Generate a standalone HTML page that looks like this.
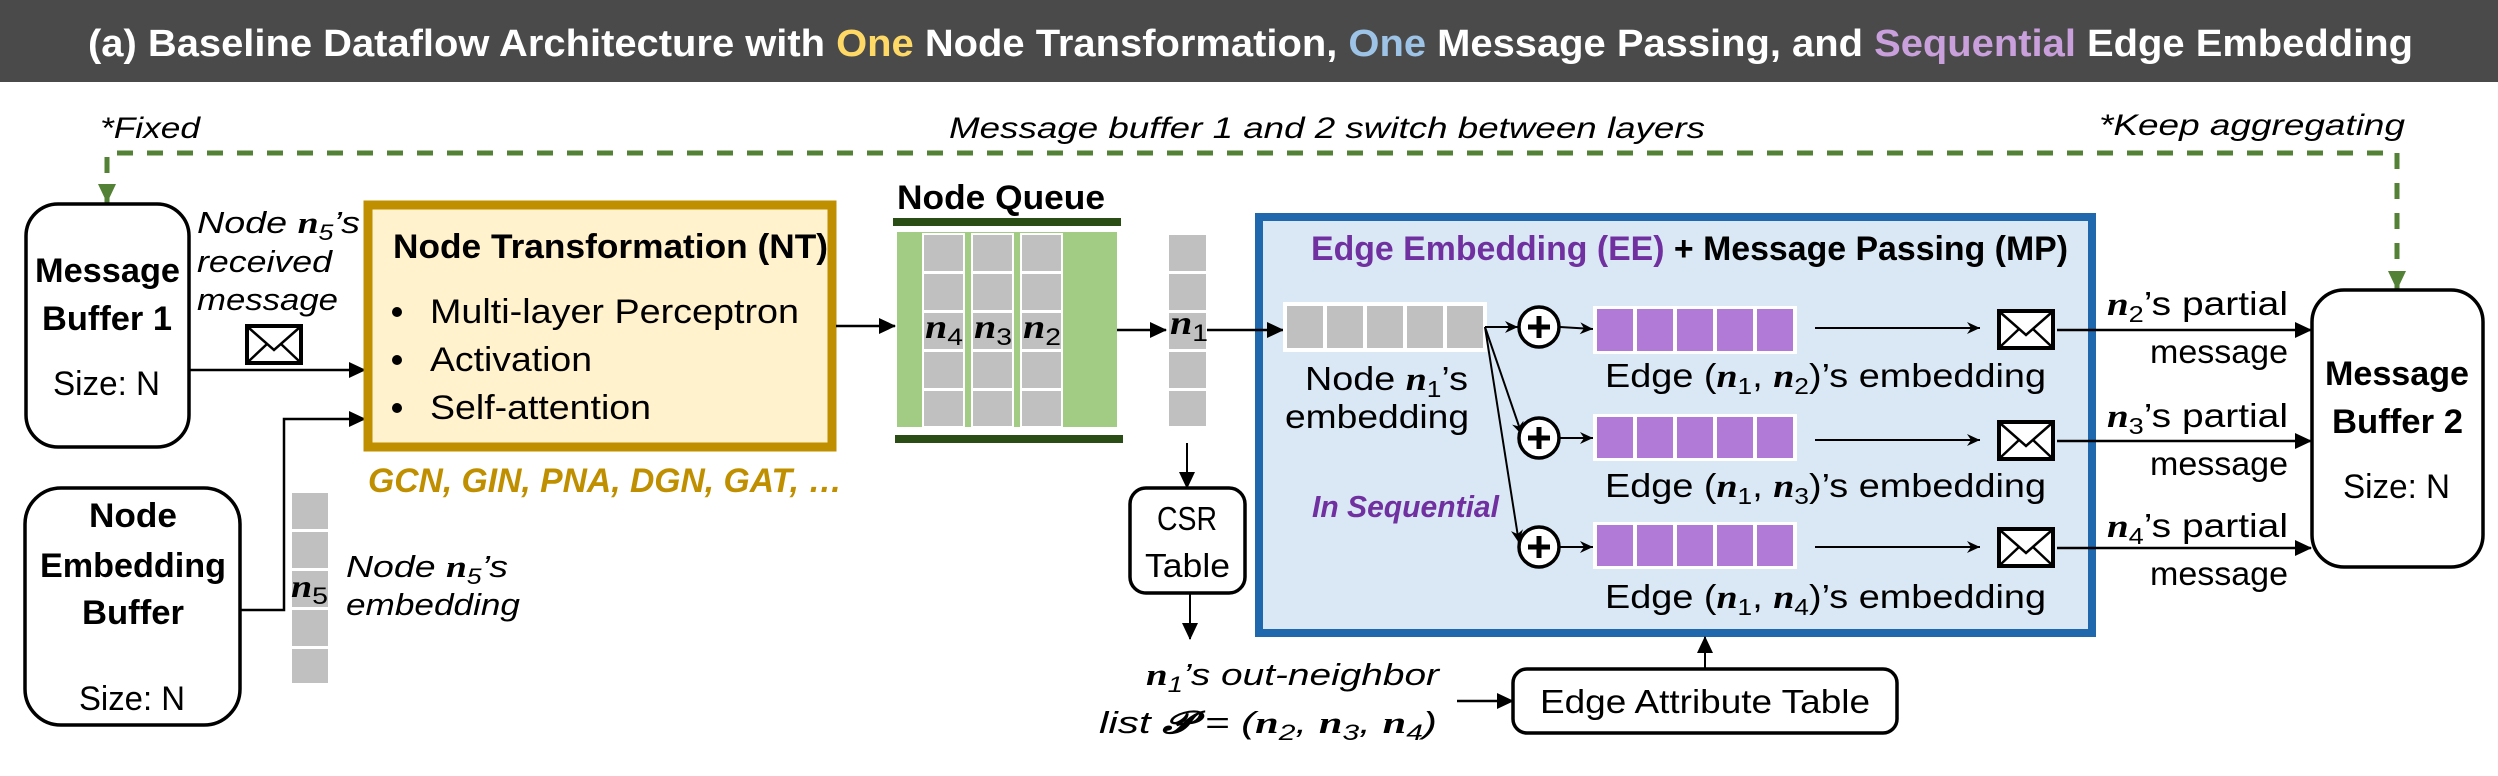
<!DOCTYPE html>
<html><head><meta charset="utf-8"><style>
html,body{margin:0;padding:0;background:#fff;}
svg{display:block;}
text{font-family:"Liberation Sans",sans-serif;}
.m{font-family:"Liberation Serif",serif;font-style:italic;font-weight:bold;}
</style></head><body>
<svg width="2498" height="776" viewBox="0 0 2498 776" xmlns="http://www.w3.org/2000/svg">
<defs>
<marker id="a" markerUnits="userSpaceOnUse" markerWidth="18" markerHeight="18" refX="16" refY="9" orient="auto"><path d="M0,1 L17,9 L0,17 z" fill="#000"/></marker>
<marker id="as" markerUnits="userSpaceOnUse" markerWidth="14" markerHeight="14" refX="13" refY="7" orient="auto"><path d="M0,1 L13,7 L0,13 L4,7 z" fill="#000"/></marker>
<g id="env"><rect x="0" y="0" width="54" height="37" fill="#fff" stroke="#000" stroke-width="4"/><path d="M2,2 L27,24 L52,2 M2,35 L20,18 M52,35 L34,18" fill="none" stroke="#000" stroke-width="2.5"/></g>
<g id="plus"><circle cx="0" cy="0" r="20" fill="#fff" stroke="#000" stroke-width="3.5"/><path d="M-11,0 H11 M0,-11 V11" stroke="#000" stroke-width="5"/></g>
</defs>

<rect x="0" y="0" width="2498" height="82" fill="#4a4a4a"/>
<text x="88" y="56" font-size="38" font-weight="bold" fill="#fff" textLength="2325" lengthAdjust="spacingAndGlyphs">(a) Baseline Dataflow Architecture with <tspan fill="#ffd966">One</tspan> Node Transformation, <tspan fill="#9dc3e6">One</tspan> Message Passing, and <tspan fill="#c9a0dc">Sequential</tspan> Edge Embedding</text>

<path d="M107,203 V153 H2397 V290" fill="none" stroke="#538135" stroke-width="5" stroke-dasharray="16,14"/>
<path d="M98,184 L116,184 L107,203 z" fill="#538135"/>
<path d="M2388,271 L2406,271 L2397,290 z" fill="#538135"/>
<text x="100" y="138" font-size="30" font-style="italic" textLength="100" lengthAdjust="spacingAndGlyphs">*Fixed</text>
<text x="949" y="138" font-size="30" font-style="italic" textLength="756" lengthAdjust="spacingAndGlyphs">Message buffer 1 and 2 switch between layers</text>
<text x="2099" y="135" font-size="30" font-style="italic" textLength="306" lengthAdjust="spacingAndGlyphs">*Keep aggregating</text>

<rect x="26" y="204" width="163" height="243" rx="32" fill="#fff" stroke="#000" stroke-width="3.5"/>
<text x="35" y="282" font-size="34" font-weight="bold" textLength="145" lengthAdjust="spacingAndGlyphs">Message</text>
<text x="42" y="330" font-size="34" font-weight="bold" textLength="130" lengthAdjust="spacingAndGlyphs">Buffer 1</text>
<text x="53" y="395" font-size="34" textLength="107" lengthAdjust="spacingAndGlyphs">Size: N</text>

<text x="197" y="233" font-size="31" font-style="italic" textLength="163" lengthAdjust="spacingAndGlyphs">Node <tspan class="m">n</tspan><tspan font-size="22" dy="7">5</tspan><tspan dy="-7">’s</tspan></text>
<text x="197" y="272" font-size="31" font-style="italic" textLength="135" lengthAdjust="spacingAndGlyphs">received</text>
<text x="197" y="310" font-size="31" font-style="italic" textLength="141" lengthAdjust="spacingAndGlyphs">message</text>
<use href="#env" x="247" y="326"/>
<line x1="189" y1="370" x2="365" y2="370" stroke="#000" stroke-width="2.5" marker-end="url(#a)"/>

<rect x="25" y="488" width="215" height="237" rx="36" fill="#fff" stroke="#000" stroke-width="3.5"/>
<text x="89" y="527" font-size="34" font-weight="bold" textLength="88" lengthAdjust="spacingAndGlyphs">Node</text>
<text x="40" y="577" font-size="34" font-weight="bold" textLength="186" lengthAdjust="spacingAndGlyphs">Embedding</text>
<text x="82" y="624" font-size="34" font-weight="bold" textLength="102" lengthAdjust="spacingAndGlyphs">Buffer</text>
<text x="79" y="710" font-size="34" textLength="106" lengthAdjust="spacingAndGlyphs">Size: N</text>
<path d="M240,610 H284 V419 H365" fill="none" stroke="#000" stroke-width="2.5" marker-end="url(#a)"/>

<g fill="#c0c0c0" stroke="#fff" stroke-width="2">
<rect x="291" y="492" width="38" height="38"/><rect x="291" y="531" width="38" height="38"/><rect x="291" y="570" width="38" height="38"/><rect x="291" y="609" width="38" height="38"/><rect x="291" y="648" width="38" height="36"/>
</g>
<text x="291" y="597" font-size="32" textLength="37" lengthAdjust="spacingAndGlyphs"><tspan class="m">n</tspan><tspan font-size="24" dy="7">5</tspan></text>
<text x="346" y="577" font-size="31" font-style="italic" textLength="162" lengthAdjust="spacingAndGlyphs">Node <tspan class="m">n</tspan><tspan font-size="22" dy="7">5</tspan><tspan dy="-7">’s</tspan></text>
<text x="346" y="615" font-size="31" font-style="italic" textLength="174" lengthAdjust="spacingAndGlyphs">embedding</text>

<rect x="368" y="205" width="464" height="242" fill="#fff2cc" stroke="#bf8f00" stroke-width="9"/>
<text x="393" y="258" font-size="34" font-weight="bold" textLength="435" lengthAdjust="spacingAndGlyphs">Node Transformation (NT)</text>
<g font-size="34">
<circle cx="397" cy="312" r="5"/><circle cx="397" cy="360" r="5"/><circle cx="397" cy="408" r="5"/>
<text x="430" y="323" textLength="369" lengthAdjust="spacingAndGlyphs">Multi-layer Perceptron</text>
<text x="430" y="371" textLength="162" lengthAdjust="spacingAndGlyphs">Activation</text>
<text x="430" y="419" textLength="221" lengthAdjust="spacingAndGlyphs">Self-attention</text>
</g>
<text x="368" y="492" font-size="34" font-weight="bold" font-style="italic" fill="#bf8f00" textLength="474" lengthAdjust="spacingAndGlyphs">GCN, GIN, PNA, DGN, GAT, …</text>
<line x1="836" y1="326" x2="895" y2="326" stroke="#000" stroke-width="2.5" marker-end="url(#a)"/>

<text x="897" y="209" font-size="34" font-weight="bold" textLength="208" lengthAdjust="spacingAndGlyphs">Node Queue</text>
<rect x="893" y="218" width="228" height="8" fill="#2a4d16"/>
<rect x="897" y="232" width="220" height="195" fill="#a2cb83"/>
<g fill="#c0c0c0" stroke="#fff" stroke-width="2">
<rect x="923" y="234" width="41" height="38"/><rect x="923" y="273" width="41" height="38"/><rect x="923" y="312" width="41" height="38"/><rect x="923" y="351" width="41" height="38"/><rect x="923" y="390" width="41" height="37"/>
<rect x="972" y="234" width="41" height="38"/><rect x="972" y="273" width="41" height="38"/><rect x="972" y="312" width="41" height="38"/><rect x="972" y="351" width="41" height="38"/><rect x="972" y="390" width="41" height="37"/>
<rect x="1021" y="234" width="41" height="38"/><rect x="1021" y="273" width="41" height="38"/><rect x="1021" y="312" width="41" height="38"/><rect x="1021" y="351" width="41" height="38"/><rect x="1021" y="390" width="41" height="37"/>
<rect x="1168" y="234" width="39" height="38"/><rect x="1168" y="273" width="39" height="38"/><rect x="1168" y="312" width="39" height="38"/><rect x="1168" y="351" width="39" height="38"/><rect x="1168" y="390" width="39" height="37"/>
</g>
<text x="925" y="338" font-size="34" textLength="38" lengthAdjust="spacingAndGlyphs"><tspan class="m">n</tspan><tspan font-size="24" dy="7">4</tspan></text>
<text x="974" y="338" font-size="34" textLength="38" lengthAdjust="spacingAndGlyphs"><tspan class="m">n</tspan><tspan font-size="24" dy="7">3</tspan></text>
<text x="1023" y="338" font-size="34" textLength="38" lengthAdjust="spacingAndGlyphs"><tspan class="m">n</tspan><tspan font-size="24" dy="7">2</tspan></text>
<text x="1170" y="334" font-size="34" textLength="38" lengthAdjust="spacingAndGlyphs"><tspan class="m">n</tspan><tspan font-size="24" dy="7">1</tspan></text>
<rect x="895" y="435" width="228" height="8" fill="#2a4d16"/>
<line x1="1117" y1="330" x2="1166" y2="330" stroke="#000" stroke-width="2.5" marker-end="url(#a)"/>

<line x1="1187" y1="443" x2="1187" y2="488" stroke="#000" stroke-width="2" marker-end="url(#a)"/>
<rect x="1130" y="488" width="115" height="105" rx="16" fill="#fff" stroke="#000" stroke-width="3.5"/>
<text x="1157" y="530" font-size="33" textLength="60" lengthAdjust="spacingAndGlyphs">CSR</text>
<text x="1145" y="577" font-size="33" textLength="85" lengthAdjust="spacingAndGlyphs">Table</text>
<line x1="1190" y1="593" x2="1190" y2="639" stroke="#000" stroke-width="2" marker-end="url(#a)"/>
<text x="1146" y="685" font-size="31" font-style="italic" textLength="293" lengthAdjust="spacingAndGlyphs"><tspan class="m">n</tspan><tspan font-size="22" dy="7">1</tspan><tspan dy="-7">’s out-neighbor</tspan></text>
<text x="1099" y="733" font-size="31" font-style="italic" textLength="338" lengthAdjust="spacingAndGlyphs">list <tspan font-family="Liberation Serif" font-weight="bold">𝓟</tspan> = (<tspan class="m">n</tspan><tspan font-size="22" dy="7">2</tspan><tspan dy="-7">, </tspan><tspan class="m">n</tspan><tspan font-size="22" dy="7">3</tspan><tspan dy="-7">, </tspan><tspan class="m">n</tspan><tspan font-size="22" dy="7">4</tspan><tspan dy="-7">)</tspan></text>
<line x1="1457" y1="701" x2="1513" y2="701" stroke="#000" stroke-width="2.5" marker-end="url(#a)"/>
<rect x="1513" y="669" width="384" height="64" rx="14" fill="#fff" stroke="#000" stroke-width="3.5"/>
<text x="1540" y="713" font-size="33" textLength="330" lengthAdjust="spacingAndGlyphs">Edge Attribute Table</text>

<rect x="1259" y="217" width="833" height="416" fill="#dae8f5" stroke="#1f68ad" stroke-width="8"/>
<line x1="1705" y1="669" x2="1705" y2="637" stroke="#000" stroke-width="2" marker-end="url(#a)"/>
<text x="1311" y="260" font-size="34" font-weight="bold" textLength="757" lengthAdjust="spacingAndGlyphs"><tspan fill="#7030a0">Edge Embedding (EE)</tspan> + Message Passing (MP)</text>
<line x1="1207" y1="330" x2="1283" y2="330" stroke="#000" stroke-width="2.5" marker-end="url(#a)"/>
<rect x="1283" y="302" width="204" height="50" fill="#fff"/>
<g fill="#c0c0c0"><rect x="1287" y="306" width="36" height="42"/><rect x="1327" y="306" width="36" height="42"/><rect x="1367" y="306" width="36" height="42"/><rect x="1407" y="306" width="36" height="42"/><rect x="1447" y="306" width="36" height="42"/></g>
<text x="1305" y="390" font-size="33" textLength="163" lengthAdjust="spacingAndGlyphs">Node <tspan class="m">n</tspan><tspan font-size="23" dy="7">1</tspan><tspan dy="-7">’s</tspan></text>
<text x="1285" y="428" font-size="33" textLength="184" lengthAdjust="spacingAndGlyphs">embedding</text>
<text x="1312" y="517" font-size="31" font-weight="bold" font-style="italic" fill="#7030a0" textLength="187" lengthAdjust="spacingAndGlyphs">In Sequential</text>

<g stroke="#000" stroke-width="2" fill="none">
<line x1="1485" y1="327" x2="1518" y2="327" marker-end="url(#as)"/>
<line x1="1485" y1="327" x2="1522" y2="435" marker-end="url(#as)"/>
<line x1="1485" y1="327" x2="1519" y2="543" marker-end="url(#as)"/>
<line x1="1560" y1="327" x2="1593" y2="329" marker-end="url(#as)"/>
<line x1="1560" y1="438" x2="1593" y2="438" marker-end="url(#as)"/>
<line x1="1560" y1="547" x2="1593" y2="547" marker-end="url(#as)"/>
<line x1="1815" y1="328" x2="1980" y2="328" marker-end="url(#as)"/>
<line x1="1815" y1="440" x2="1980" y2="440" marker-end="url(#as)"/>
<line x1="1815" y1="547" x2="1980" y2="547" marker-end="url(#as)"/>
</g>
<use href="#plus" x="1539" y="327"/><use href="#plus" x="1539" y="438"/><use href="#plus" x="1539" y="547"/>

<g>
<rect x="1593" y="306" width="204" height="48" fill="#fff"/><rect x="1593" y="414" width="204" height="47" fill="#fff"/><rect x="1593" y="522" width="204" height="47" fill="#fff"/>
<g fill="#b07ad6">
<rect x="1597" y="309" width="36" height="42"/><rect x="1637" y="309" width="36" height="42"/><rect x="1677" y="309" width="36" height="42"/><rect x="1717" y="309" width="36" height="42"/><rect x="1757" y="309" width="36" height="42"/>
<rect x="1597" y="417" width="36" height="41"/><rect x="1637" y="417" width="36" height="41"/><rect x="1677" y="417" width="36" height="41"/><rect x="1717" y="417" width="36" height="41"/><rect x="1757" y="417" width="36" height="41"/>
<rect x="1597" y="525" width="36" height="41"/><rect x="1637" y="525" width="36" height="41"/><rect x="1677" y="525" width="36" height="41"/><rect x="1717" y="525" width="36" height="41"/><rect x="1757" y="525" width="36" height="41"/>
</g></g>
<text x="1605" y="387" font-size="33" textLength="441" lengthAdjust="spacingAndGlyphs">Edge (<tspan class="m">n</tspan><tspan font-size="23" dy="7">1</tspan><tspan dy="-7">, </tspan><tspan class="m">n</tspan><tspan font-size="23" dy="7">2</tspan><tspan dy="-7">)’s embedding</tspan></text>
<text x="1605" y="497" font-size="33" textLength="441" lengthAdjust="spacingAndGlyphs">Edge (<tspan class="m">n</tspan><tspan font-size="23" dy="7">1</tspan><tspan dy="-7">, </tspan><tspan class="m">n</tspan><tspan font-size="23" dy="7">3</tspan><tspan dy="-7">)’s embedding</tspan></text>
<text x="1605" y="608" font-size="33" textLength="441" lengthAdjust="spacingAndGlyphs">Edge (<tspan class="m">n</tspan><tspan font-size="23" dy="7">1</tspan><tspan dy="-7">, </tspan><tspan class="m">n</tspan><tspan font-size="23" dy="7">4</tspan><tspan dy="-7">)’s embedding</tspan></text>
<use href="#env" x="1999" y="311"/><use href="#env" x="1999" y="422"/><use href="#env" x="1999" y="529"/>

<g stroke="#000" stroke-width="2.5">
<line x1="2057" y1="330" x2="2311" y2="330" marker-end="url(#a)"/>
<line x1="2057" y1="441" x2="2311" y2="441" marker-end="url(#a)"/>
<line x1="2057" y1="548" x2="2311" y2="548" marker-end="url(#a)"/>
</g>
<g font-size="33">
<text x="2107" y="315" textLength="181" lengthAdjust="spacingAndGlyphs"><tspan class="m">n</tspan><tspan font-size="23" dy="7">2</tspan><tspan dy="-7">’s partial</tspan></text>
<text x="2150" y="363" textLength="138" lengthAdjust="spacingAndGlyphs">message</text>
<text x="2107" y="427" textLength="181" lengthAdjust="spacingAndGlyphs"><tspan class="m">n</tspan><tspan font-size="23" dy="7">3</tspan><tspan dy="-7">’s partial</tspan></text>
<text x="2150" y="475" textLength="138" lengthAdjust="spacingAndGlyphs">message</text>
<text x="2107" y="537" textLength="181" lengthAdjust="spacingAndGlyphs"><tspan class="m">n</tspan><tspan font-size="23" dy="7">4</tspan><tspan dy="-7">’s partial</tspan></text>
<text x="2150" y="585" textLength="138" lengthAdjust="spacingAndGlyphs">message</text>
</g>

<rect x="2312" y="290" width="171" height="277" rx="32" fill="#fff" stroke="#000" stroke-width="3.5"/>
<text x="2325" y="385" font-size="34" font-weight="bold" textLength="144" lengthAdjust="spacingAndGlyphs">Message</text>
<text x="2332" y="433" font-size="34" font-weight="bold" textLength="131" lengthAdjust="spacingAndGlyphs">Buffer 2</text>
<text x="2343" y="498" font-size="34" textLength="107" lengthAdjust="spacingAndGlyphs">Size: N</text>
</svg>
</body></html>
